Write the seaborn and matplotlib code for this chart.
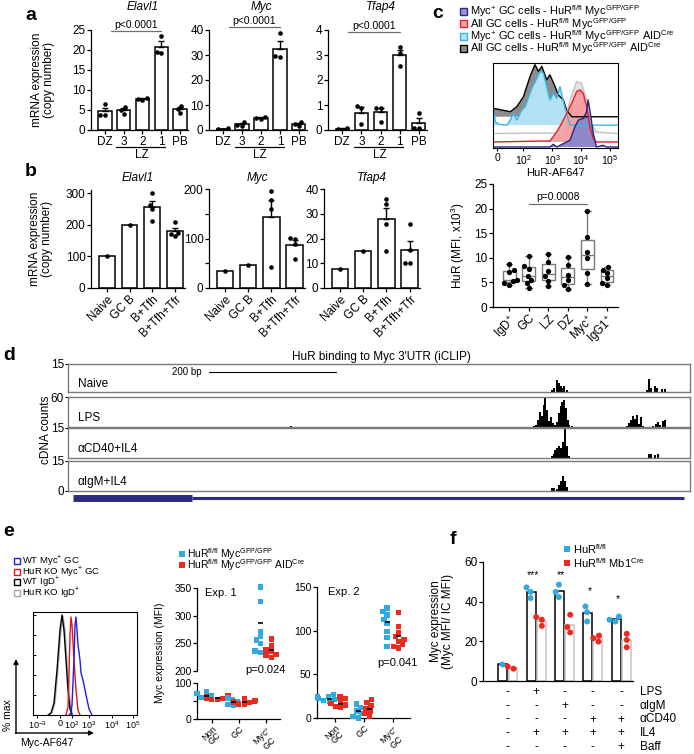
import numpy as np
import pandas as pd
import matplotlib
matplotlib.use('Agg')
import matplotlib.pyplot as plt
import seaborn as sns
from matplotlib.patches import Rectangle
from matplotlib.transforms import blended_transform_factory
import warnings
warnings.filterwarnings('ignore')

# ---------------- values ----------------
# a: mRNA copy number in GC subsets
a_cats = ['DZ', '3', '2', '1', 'PB']
a_elavl1 = [[6.5, 3.8, 3.8], [5.7, 5.0, 4.0], [8.1, 7.8, 7.6], [23.5, 19.6, 19.2], [6.0, 5.2, 4.2]]
a_myc = [[0.7, 0.3, 0.0], [3.3, 2.0, 1.6], [5.3, 4.7, 4.3], [38.9, 29.6, 29.3], [3.3, 2.4, 1.6]]
a_tfap4 = [[0.08, 0.05, 0.02], [0.95, 0.9, 0.25], [0.9, 0.9, 0.33], [3.33, 3.07, 2.56], [0.69, 0.07, 0.07]]

# b: mRNA copy number in co-cultures
b_cats = ['Naive', 'GC B', 'B+Tfh', 'B+Tfh+Tfr']
b_elavl1 = [[102], [199], [300, 262, 249, 212], [210, 175, 171, 164]]
b_myc = [[35], [47], [195, 178, 159, 43], [102, 100, 88, 58]]
b_tfap4 = [[7.5], [15], [36, 34, 26, 15], [26, 15.5, 10, 10]]

# c: HuR flow histograms (x in decades, y in stacked display units)
c_labels = ['Myc$^{+}$ GC cells - HuR$^{fl/fl}$ Myc$^{GFP/GFP}$',
            'All GC cells - HuR$^{fl/fl}$ Myc$^{GFP/GFP}$',
            'Myc$^{+}$ GC cells - HuR$^{fl/fl}$ Myc$^{GFP/GFP}$ AID$^{Cre}$',
            'All GC cells - HuR$^{fl/fl}$ Myc$^{GFP/GFP}$ AID$^{Cre}$']
c_aid_all_x = [0.96, 1.54, 1.77, 2.0, 2.23, 2.40, 2.52, 2.64, 2.81, 2.92, 3.10, 3.21, 3.39, 3.50, 3.68, 5.29]
c_aid_all_y = [115, 105, 120, 150, 210, 245, 225, 240, 200, 215, 180, 155, 140, 110, 90, 90]
c_aid_myc_x = [0.96, 1.02, 1.13, 1.42, 1.54, 1.65, 1.77, 1.94, 2.06, 2.23, 2.32, 2.44, 2.58, 2.69,
               2.81, 2.92, 3.04, 3.16, 3.27, 3.39, 3.50, 3.62, 5.29]
c_aid_myc_y = [110, 75, 68, 65, 80, 100, 80, 110, 120, 160, 180, 200, 225, 220,
               180, 140, 160, 145, 180, 135, 100, 65, 65]
c_ctrl_x = [0.96, 3.27, 3.39, 3.62, 3.85, 4.02, 4.20, 4.37, 4.54, 5.29]
c_ctrl_y = [40, 42, 60, 140, 195, 190, 140, 70, 45, 40]
c_wt_all_x = [0.96, 2.92, 3.16, 3.39, 3.62, 3.73, 3.85, 3.97, 4.08, 4.20, 4.31, 4.43, 4.54, 5.29]
c_wt_all_y = [15, 18, 45, 80, 120, 140, 165, 170, 160, 120, 60, 25, 15, 15]
c_wt_myc_x = [0.96, 2.92, 3.04, 3.16, 3.39, 3.62, 3.79, 3.91, 4.08, 4.20, 4.25, 4.31, 4.43, 4.54, 4.77, 4.89, 5.29]
c_wt_myc_y = [0, 0, 8, 0, 10, 20, 60, 80, 85, 105, 140, 110, 40, 0, 5, 0, 0]
c_hist_ticks = [1.08, 2, 3, 4, 5]
c_hist_ticklabels = ['0', '10$^{2}$', '10$^{3}$', '10$^{4}$', '10$^{5}$']

# c: HuR MFI (x10^3) per population
c_box_cats = ['IgD$^{+}$', 'GC', 'LZ', 'DZ', 'Myc$^{+}$', 'IgG1$^{+}$']
c_box_vals = [[8.8, 7.5, 7.2, 5.5, 5.2, 4.9, 4.5],
              [10.4, 8.3, 7.8, 6.4, 5.5, 4.9, 3.9],
              [10.8, 9.2, 7.3, 6.2, 5.3, 4.2],
              [10.1, 8.5, 6.6, 5.5, 4.4, 3.7],
              [19.5, 14.3, 11.2, 10.0, 7.0, 4.6],
              [8.1, 7.6, 6.9, 5.8, 4.8, 4.4]]

# d: iCLIP cDNA counts along the Myc 3'UTR (bp)
d_samples = ['Naive', 'LPS', 'αCD40+IL4', 'αIgM+IL4']
d_ymax = [15, 60, 15, 15]
d_naive_pos = [762, 766, 770, 773, 776, 779, 782, 786, 912, 915, 918, 925, 928, 936, 940]
d_naive_cnt = [1, 2, 6.5, 5, 3, 2, 3, 1, 1, 7, 2, 3, 2, 1.5, 1.5]
d_lps_pos = [352, 735, 738, 741, 744, 747, 750, 752, 755, 758, 761, 764, 767, 770, 773, 776, 779, 781,
             784, 787, 790, 794, 880, 884, 887, 890, 893, 896, 899, 903, 906, 922, 926, 930, 933, 937, 940]
d_lps_cnt = [2, 2, 5, 15, 30, 22, 45, 60, 35, 12, 20, 8, 5, 10, 28, 42, 50, 55,
             38, 15, 5, 2, 2, 8, 15, 22, 16, 25, 6, 20, 3, 3, 6, 10, 4, 12, 15]
d_cd40_pos = [762, 765, 768, 771, 774, 777, 780, 783, 786, 789, 915, 919, 925, 929]
d_cd40_cnt = [1, 2, 4, 5, 6, 5, 8, 15, 6, 1, 2, 2, 1.5, 2]
d_igm_pos = [762, 766, 770, 774, 777, 780, 783, 786]
d_igm_cnt = [1.5, 1.5, 1, 3, 5, 7.5, 5, 2]
d_scale_bar = (222, 422)
d_gene_cds = (8, 196)
d_gene_utr = (196, 970)

# e: Myc-AF647 histograms (% max)
e_hist_labels = ['WT Myc$^{+}$ GC', 'HuR KO Myc$^{+}$ GC', 'WT IgD$^{+}$', 'HuR KO IgD$^{+}$']
e_wt_myc_x = [36, 38, 39, 41, 42, 43, 44, 45, 47, 48, 50, 53, 56, 59]
e_wt_myc_y = [0, 2, 10, 55, 90, 98, 85, 70, 55, 42, 35, 20, 6, 0]
e_ko_myc_x = [33, 35, 36, 37, 38, 39, 41, 43, 45, 47]
e_ko_myc_y = [0, 8, 40, 80, 98, 90, 55, 25, 5, 0]
e_wt_igd_x = [15, 18, 21, 24, 27, 29, 31, 33, 35, 37, 39]
e_wt_igd_y = [0, 2, 12, 45, 85, 100, 85, 55, 25, 6, 0]
e_ko_igd_x = [16, 19, 22, 25, 28, 30, 32, 34, 36, 38, 40]
e_ko_igd_y = [0, 2, 12, 45, 85, 99, 85, 55, 25, 6, 0]
e_hist_ticks = [4, 27, 39, 56, 79, 100]
e_hist_ticklabels = ['10$^{-3}$', '0', '10$^{2}$', '10$^{3}$', '10$^{4}$', '10$^{5}$']

# e: Myc MFI per population, two experiments
e_cats = ['Non GC', 'GC', 'Myc+ GC']
e_cat_labels = ['Non\nGC', 'GC', 'Myc$^{+}$\nGC']
e_genos = ['HuR$^{fl/fl}$ Myc$^{GFP/GFP}$', 'HuR$^{fl/fl}$ Myc$^{GFP/GFP}$ AID$^{Cre}$']
e1_wt = [[75, 70, 66, 60, 58], [58, 55, 48, 40, 38], [352, 326, 272, 262, 256, 250, 236, 234]]
e1_ko = [[65, 62, 60, 58, 56, 55, 54], [57, 52, 50, 47, 45, 42, 40], [258, 245, 238, 235, 230, 228, 225]]
e1_wt_mean = [64, 47, 287]
e1_ko_mean = [58, 47, 238]
e2_wt = [[27, 25, 24, 23, 22, 21, 20, 19], [16, 12, 8, 5, 2, 0], [126, 122, 118, 113, 108, 99, 92, 82]]
e2_ko = [[25, 22, 19, 17, 15, 13, 12], [21, 18, 14, 11, 8, 5, 2], [121, 105, 98, 93, 90, 88, 84, 82, 80]]
e2_wt_mean = [22, 8.4, 109.5]
e2_ko_mean = [16.4, 10.3, 94]

# f: Myc MFI / IC MFI after stimulation
f_conds = ['ctrl', 'LPS+IL4', 'aIgM+IL4', 'aCD40+IL4', 'aCD40+IL4+Baff']
f_genos = ['HuR$^{fl/fl}$', 'HuR$^{fl/fl}$ Mb1$^{Cre}$']
f_wt = [[8.6], [47.2, 41.8, 44.9], [48.6, 42.3, 44.9], [37.6, 34.7, 30.0], [32.5, 30.0, 30.9]]
f_ko = [[7.3, 6.2], [32.2, 27.8, 30.9], [33.4, 24.5, 27.2], [22.9, 21.6, 19.9], [23.8, 17.0, 20.7]]
f_stars = ['', '***', '**', '*', '*']
f_star_y = [0, 51, 51, 43, 39]
f_rows = ['LPS', 'αIgM', 'αCD40', 'IL4', 'Baff']
f_table = [['-', '+', '-', '-', '-'],
           ['-', '-', '+', '-', '-'],
           ['-', '-', '-', '+', '+'],
           ['-', '+', '+', '+', '+'],
           ['-', '-', '-', '-', '+']]

BLUE = '#33a9e0'
RED = '#ec2a1f'

# ---------------- style ----------------
sns.set_theme(style='ticks')
plt.rcParams['font.family'] = ['Liberation Sans', 'DejaVu Sans']
plt.rcParams['mathtext.fontset'] = 'custom'
plt.rcParams['mathtext.rm'] = 'Liberation Sans'
plt.rcParams['mathtext.it'] = 'Liberation Sans:italic'
plt.rcParams['mathtext.default'] = 'regular'
for k in ['axes.edgecolor', 'xtick.color', 'ytick.color', 'text.color', 'axes.labelcolor']:
    plt.rcParams[k] = 'black'

W, H = 694, 754
fig = plt.figure(figsize=(W / 100, H / 100), dpi=100)


def axes_px(x0, y0, x1, y1):
    return fig.add_axes([x0 / W, 1 - y1 / H, (x1 - x0) / W, (y1 - y0) / H])


def tidy(ax, fs=8.5):
    ax.set_xlabel('')
    ax.set_ylabel('')
    sns.despine(ax=ax)
    for s in ax.spines.values():
        s.set_linewidth(0.9)
    ax.tick_params(labelsize=fs, length=3, width=0.9, pad=1)


def bar_panel(ax, cats, groups, top, step):
    df = pd.DataFrame([(c, v) for c, g in zip(cats, groups) for v in g], columns=['cat', 'val'])
    sns.barplot(data=df, x='cat', y='val', order=cats, errorbar=None, color='white', saturation=1,
                edgecolor='black', linewidth=1.1, width=0.7, ax=ax)
    means = np.array([np.mean(g) for g in groups])
    sems = np.array([np.std(g, ddof=1) / np.sqrt(len(g)) if len(g) > 1 else 0 for g in groups])
    x = np.arange(len(cats))
    has = sems > 0
    ax.errorbar(x[has], means[has], yerr=[np.zeros(has.sum()), sems[has]], fmt='none',
                ecolor='black', elinewidth=1, capsize=2.5, capthick=1, zorder=3)
    sns.swarmplot(data=df, x='cat', y='val', order=cats, color='black', size=3.3, ax=ax, zorder=4)
    ax.set_ylim(0, top)
    ax.set_yticks(np.arange(0, top + step / 2, step))
    tidy(ax)


# ---------------- a ----------------
a_specs = [(91, 188, a_elavl1, 'Elavl1', 25, 5, 0.99, 1.05),
           (209, 307, a_myc, 'Myc', 40, 10, 1.03, 1.09),
           (328, 427, a_tfap4, 'Tfap4', 4, 1, 0.98, 1.04)]
for i, (x0, x1, vals, title, top, step, ly, ty) in enumerate(a_specs):
    ax = axes_px(x0, 30, x1, 130)
    bar_panel(ax, a_cats, vals, top, step)
    ax.set_xlim(-0.75, 4.43)
    tr = blended_transform_factory(ax.transData, ax.transAxes)
    ax.text(2, 1.23, title, transform=tr, ha='center', va='center', style='italic', fontsize=8.5)
    ax.plot([0.3, 3.0], [ly, ly], transform=tr, color='#707070', lw=0.9, clip_on=False)
    ax.text(1.65, ty, 'p<0.0001', transform=tr, ha='center', va='center', fontsize=7.5)
    ax.plot([0.6, 3.2], [-0.17, -0.17], transform=tr, color='black', lw=0.9, clip_on=False)
    ax.text(1.95, -0.25, 'LZ', transform=tr, ha='center', va='center', fontsize=8.5)
    if i == 0:
        ax.set_ylabel('mRNA expression\n(copy number)', fontsize=8.5, linespacing=1.0)
        ax.yaxis.set_label_coords(-0.37, 0.5)

# ---------------- b ----------------
b_specs = [(91, 185, 190, b_elavl1, 'Elavl1', 310, 100),
           (209, 305, 189, b_myc, 'Myc', 200, 50),
           (324, 420, 189, b_tfap4, 'Tfap4', 40, 10)]
for i, (x0, x1, y0, vals, title, top, step) in enumerate(b_specs):
    ax = axes_px(x0, y0, x1, 288)
    bar_panel(ax, b_cats, vals, top, step)
    ax.set_xlim(-0.7, 3.45)
    ax.set_xticklabels(b_cats, rotation=45, ha='right', rotation_mode='anchor')
    if title == 'Myc':
        ax.set_yticklabels(['0', '', '100', '', '200'])
    ax.text(0.5, (288 - 178) / (288 - y0), title, transform=ax.transAxes, ha='center', va='center',
            style='italic', fontsize=8.5)
    if i == 0:
        ax.set_ylabel('mRNA expression\n(copy number)', fontsize=8.5, linespacing=1.0)
        ax.yaxis.set_label_coords(-0.40, 0.5)

# ---------------- c: histograms ----------------
ax = axes_px(493, 63, 618, 148)
curves = [(c_aid_all_x, c_aid_all_y, 90, '#8c8c8c', 'black'),
          (c_aid_myc_x, c_aid_myc_y, 65, '#b3e0f2', '#3ab5e5'),
          (c_ctrl_x, c_ctrl_y, 40, '#e3e3e3', '#c4c4c4'),
          (c_wt_all_x, c_wt_all_y, 15, '#f4a0a4', '#e51e25'),
          (c_wt_myc_x, c_wt_myc_y, 0, '#8e88c8', '#262680')]
for cx, cy, base, fc, ec in curves:
    ax.fill_between(cx, base, cy, facecolor=fc, edgecolor='none')
    sns.lineplot(x=cx, y=cy, color=ec, lw=1, sort=False, estimator=None, ax=ax)
ax.set_xlim(0.94, 5.29)
ax.set_ylim(-3, 250)
ax.set_xticks(c_hist_ticks)
ax.set_xticklabels(c_hist_ticklabels)
ax.set_yticks([])
ax.tick_params(axis='x', labelsize=7.5, length=2.5, width=0.8, pad=1)
for s in ax.spines.values():
    s.set_linewidth(0.8)
ax.set_xlabel('HuR-AF647', fontsize=8, labelpad=1)

# ---------------- c: box plot ----------------
ax = axes_px(493, 184, 618, 307)
df_c = pd.DataFrame([(c, v) for c, g in zip(c_box_cats, c_box_vals) for v in g], columns=['cat', 'val'])
sns.boxplot(data=df_c, x='cat', y='val', order=c_box_cats, whis=(0, 100), width=0.66, color='white',
            linecolor='#7a7a7a', linewidth=1, fliersize=0, ax=ax)
sns.swarmplot(data=df_c, x='cat', y='val', order=c_box_cats, color='black', size=3.8, ax=ax, zorder=4)
ax.set_xlim(-0.82, 5.56)
ax.set_ylim(0, 25)
ax.set_yticks([0, 5, 10, 15, 20, 25])
tidy(ax)
ax.set_xticks(range(6))
ax.set_xticklabels(c_box_cats, rotation=45, ha='right', rotation_mode='anchor')
ax.plot([1, 4], [21, 21], color='#707070', lw=0.9)
ax.text(2.5, 21.4, 'p=0.0008', ha='center', va='bottom', fontsize=7.5)
ax.set_ylabel('HuR (MFI, x10$^{3}$)', fontsize=8.5)
ax.yaxis.set_label_coords(-0.21, 0.5)

# ---------------- d: iCLIP tracks ----------------
d_pos = [d_naive_pos, d_lps_pos, d_cd40_pos, d_igm_pos]
d_cnt = [d_naive_cnt, d_lps_cnt, d_cd40_cnt, d_igm_cnt]
d_rows = [(364, 392), (397, 427), (428, 458), (461, 491)]
for i, (y0, y1) in enumerate(d_rows):
    ax = axes_px(68, y0, 690, y1)
    ax.bar(d_pos[i], d_cnt[i], width=3.2, color='black', linewidth=0)
    ax.set_xlim(0, 980)
    ax.set_ylim(0, d_ymax[i])
    ax.set_xticks([])
    ticks = [0, d_ymax[i]] if i == 3 else [d_ymax[i]]
    ax.set_yticks(ticks)
    ax.tick_params(axis='y', labelsize=8.5, length=2, width=0.8, pad=1)
    for s in ax.spines.values():
        s.set_color('#7a7a7a')
        s.set_linewidth(1)
    ax.text(0.016, 0.3, d_samples[i], transform=ax.transAxes, ha='left', va='center', fontsize=8.5)
    if i == 0:
        ax.plot(d_scale_bar, [10.5, 10.5], color='black', lw=0.8)
        ax.text(d_scale_bar[0] - 12, 10.5, '200 bp', ha='right', va='center', fontsize=7)
ax = axes_px(68, 494, 690, 502)
ax.plot(d_gene_cds, [0.5, 0.5], color='#2e2a86', lw=5, solid_capstyle='butt')
ax.plot(d_gene_utr, [0.5, 0.5], color='#2e2a86', lw=2.2, solid_capstyle='butt')
ax.set_xlim(0, 980)
ax.set_ylim(0, 1)
ax.axis('off')

# ---------------- e: histogram ----------------
ax = axes_px(33, 612, 137, 715)
for hx, hy, col in [(e_ko_igd_x, e_ko_igd_y, '#b0b0b0'), (e_wt_igd_x, e_wt_igd_y, 'black'),
                    (e_ko_myc_x, e_ko_myc_y, '#e8141c'), (e_wt_myc_x, e_wt_myc_y, '#1f1fe6')]:
    sns.lineplot(x=hx, y=hy, color=col, lw=1, sort=False, estimator=None, ax=ax)
ax.set_xlim(0, 104)
ax.set_ylim(0, 103)
ax.set_xticks(e_hist_ticks)
ax.set_xticklabels(e_hist_ticklabels)
ax.set_yticks([0, 20, 40, 60, 80, 100])
ax.set_yticklabels([])
ax.tick_params(axis='x', labelsize=6.5, length=2, width=0.7, pad=1)
ax.tick_params(axis='y', direction='in', length=2, width=0.7)
for s in ax.spines.values():
    s.set_linewidth(0.8)

# ---------------- e: Myc MFI ----------------
def e_frame(wt, ko):
    rows = []
    for c, gw, gk in zip(e_cats, wt, ko):
        rows += [(c, e_genos[0], v) for v in gw] + [(c, e_genos[1], v) for v in gk]
    return pd.DataFrame(rows, columns=['cat', 'geno', 'val'])


def e_points(ax, df, wt_mean, ko_mean, cats_shown):
    sub = df[df['cat'].isin(cats_shown)]
    sns.swarmplot(data=sub, x='cat', y='val', hue='geno', order=e_cats, hue_order=e_genos,
                  palette=[BLUE, RED], dodge=True, marker='s', size=3.8, linewidth=0,
                  legend=False, ax=ax, clip_on=False)
    for j, c in enumerate(e_cats):
        if c in cats_shown:
            ax.hlines(wt_mean[j], j - 0.29, j - 0.11, color='black', lw=1.2, zorder=5)
            ax.hlines(ko_mean[j], j + 0.11, j + 0.29, color='black', lw=1.2, zorder=5)


def e_xlabels(ax):
    ax.set_xticks(range(3))
    ax.set_xticklabels(e_cat_labels, rotation=45, ha='right', rotation_mode='anchor',
                       multialignment='center', linespacing=0.78, fontsize=6.6)
    ax.tick_params(axis='x', pad=0.5)


df_e1 = e_frame(e1_wt, e1_ko)
ax = axes_px(197, 588, 280, 671)
e_points(ax, df_e1, e1_wt_mean, e1_ko_mean, ['Myc+ GC'])
ax.set_xlim(-0.55, 2.52)
ax.set_ylim(200, 350)
ax.set_yticks([200, 250, 300, 350])
tidy(ax, fs=7.5)
ax.spines['bottom'].set_visible(False)
ax.set_xticks([])
ax.text(0.1, 0.94, 'Exp. 1', transform=ax.transAxes, ha='left', va='center', fontsize=8)
ax.text(2, 201, 'p=0.024', ha='center', va='center', fontsize=8)

ax = axes_px(197, 683, 280, 719)
e_points(ax, df_e1, e1_wt_mean, e1_ko_mean, ['Non GC', 'GC'])
ax.set_xlim(-0.55, 2.52)
ax.set_ylim(0, 100)
ax.set_yticks([0, 50, 100])
ax.set_yticklabels(['0', '', '100'])
tidy(ax, fs=7.5)
e_xlabels(ax)

df_e2 = e_frame(e2_wt, e2_ko)
ax = axes_px(317, 587, 410, 718)
e_points(ax, df_e2, e2_wt_mean, e2_ko_mean, e_cats)
ax.set_xlim(-0.62, 2.59)
ax.set_ylim(0, 150)
ax.set_yticks([0, 50, 100, 150])
tidy(ax, fs=7.5)
e_xlabels(ax)
ax.text(0.12, 0.96, 'Exp. 2', transform=ax.transAxes, ha='left', va='center', fontsize=8)
ax.text(2.15, 63, 'p=0.041', ha='center', va='center', fontsize=8)

# ---------------- f ----------------
ax = axes_px(483, 562, 633, 681)
rows = []
for c, gw, gk in zip(f_conds, f_wt, f_ko):
    rows += [(c, f_genos[0], v) for v in gw] + [(c, f_genos[1], v) for v in gk]
df_f = pd.DataFrame(rows, columns=['cond', 'geno', 'val'])
sns.barplot(data=df_f, x='cond', y='val', hue='geno', order=f_conds, hue_order=f_genos,
            errorbar=None, width=0.72, gap=0.12, palette=['white', 'white'], saturation=1,
            linewidth=1.1, edgecolor='black', legend=False, ax=ax)
for cont, ec in zip(ax.containers, ['black', '#c2c2c2']):
    for p in cont:
        p.set_edgecolor(ec)
        p.set_facecolor('white')
sns.swarmplot(data=df_f, x='cond', y='val', hue='geno', order=f_conds, hue_order=f_genos,
              palette=[BLUE, RED], dodge=True, size=4.3, linewidth=0, legend=False, ax=ax, zorder=4)
ax.set_xlim(-0.88, 4.42)
ax.set_ylim(0, 60)
ax.set_yticks([0, 20, 40, 60])
tidy(ax)
ax.set_xticks(range(5))
ax.set_xticklabels([])
ax.tick_params(axis='x', length=0)
for j, (st, sy) in enumerate(zip(f_stars, f_star_y)):
    if st:
        ax.text(j - 0.12, sy, st, ha='center', va='bottom', fontsize=7.5)
ax.set_ylabel('Myc expression\n(Myc MFI/ IC MFI)', fontsize=8.5, linespacing=1.0)
ax.yaxis.set_label_coords(-0.19, 0.5)
tr = blended_transform_factory(ax.transData, fig.transFigure)
for r, (lab, vals) in enumerate(zip(f_rows, f_table)):
    y = 1 - (692 + r * 13.75) / H
    for j, v in enumerate(vals):
        ax.text(j, y, v, transform=tr, ha='center', va='center', fontsize=8.5)
    fig.text(640 / W, y, lab, ha='left', va='center', fontsize=8.5)

# ---------------- overlay: labels, legends, arrows ----------------
ov = fig.add_axes([0, 0, 1, 1], zorder=10)
ov.set_xlim(0, W)
ov.set_ylim(H, 0)
ov.axis('off')
ov.patch.set_alpha(0)

for lab, x, y in [('a', 25, 15), ('b', 25, 172), ('c', 432, 13), ('d', 3, 356), ('e', 3, 532), ('f', 450, 540)]:
    ov.text(x, y, lab, fontsize=14, weight='bold', ha='left', va='center')

# c legend
c_leg = [('#9a95cc', '#2e2a8a'), ('#f3a5a8', '#e8202a'), ('#b5dff0', '#38b6e6'), ('#8a8a8a', 'black')]
for k, ((fc, ec), lab) in enumerate(zip(c_leg, c_labels)):
    y = 11.5 + 12.3 * k
    ov.add_patch(Rectangle((460, y - 3.5), 7, 7, facecolor=fc, edgecolor=ec, lw=1))
    ov.text(470, y, lab, fontsize=7.9, va='center', ha='left')

# d labels
ov.text(381, 357, "HuR binding to Myc 3'UTR (iCLIP)", ha='center', va='center', fontsize=8.5)
ov.text(46, 430, 'cDNA counts', rotation=90, ha='center', va='center', fontsize=8.5)

# e histogram legend and axes arrows
for k, (lab, ec) in enumerate(zip(e_hist_labels, ['#1f1fe6', '#e8141c', 'black', '#a8a8a8'])):
    y = 561 + 10.6 * k
    ov.add_patch(Rectangle((14, y - 3), 6, 6, fill=False, edgecolor=ec, lw=1))
    ov.text(22, y, lab, fontsize=6.8, va='center', ha='left')
ov.annotate('', xy=(16, 659), xytext=(16, 733.5),
            arrowprops=dict(arrowstyle='-|>', color='black', lw=1, mutation_scale=7, shrinkA=0, shrinkB=0))
ov.annotate('', xy=(94, 733), xytext=(15.5, 733),
            arrowprops=dict(arrowstyle='-|>', color='black', lw=1, mutation_scale=7, shrinkA=0, shrinkB=0))
ov.text(8, 715, '% max', rotation=90, ha='center', va='center', fontsize=7.5)
ov.text(20, 743, 'Myc-AF647', ha='left', va='center', fontsize=7.5)

# e scatter legend
for k, (lab, col) in enumerate(zip(e_genos, [BLUE, RED])):
    y = 554 + 11 * k
    ov.add_patch(Rectangle((179, y - 3), 6, 6, facecolor=col, edgecolor='none'))
    ov.text(187, y, lab, fontsize=7.5, va='center', ha='left')
ov.text(160, 653, 'Myc expression (MFI)', rotation=90, ha='center', va='center', fontsize=7.5)

# f legend
for k, (lab, col) in enumerate(zip(f_genos, [BLUE, RED])):
    y = 549 + 14 * k
    ov.add_patch(Rectangle((564, y - 3), 6, 6, facecolor=col, edgecolor='none'))
    ov.text(573, y, lab, fontsize=8, va='center', ha='left')

fig.savefig('out.png', dpi=100)
